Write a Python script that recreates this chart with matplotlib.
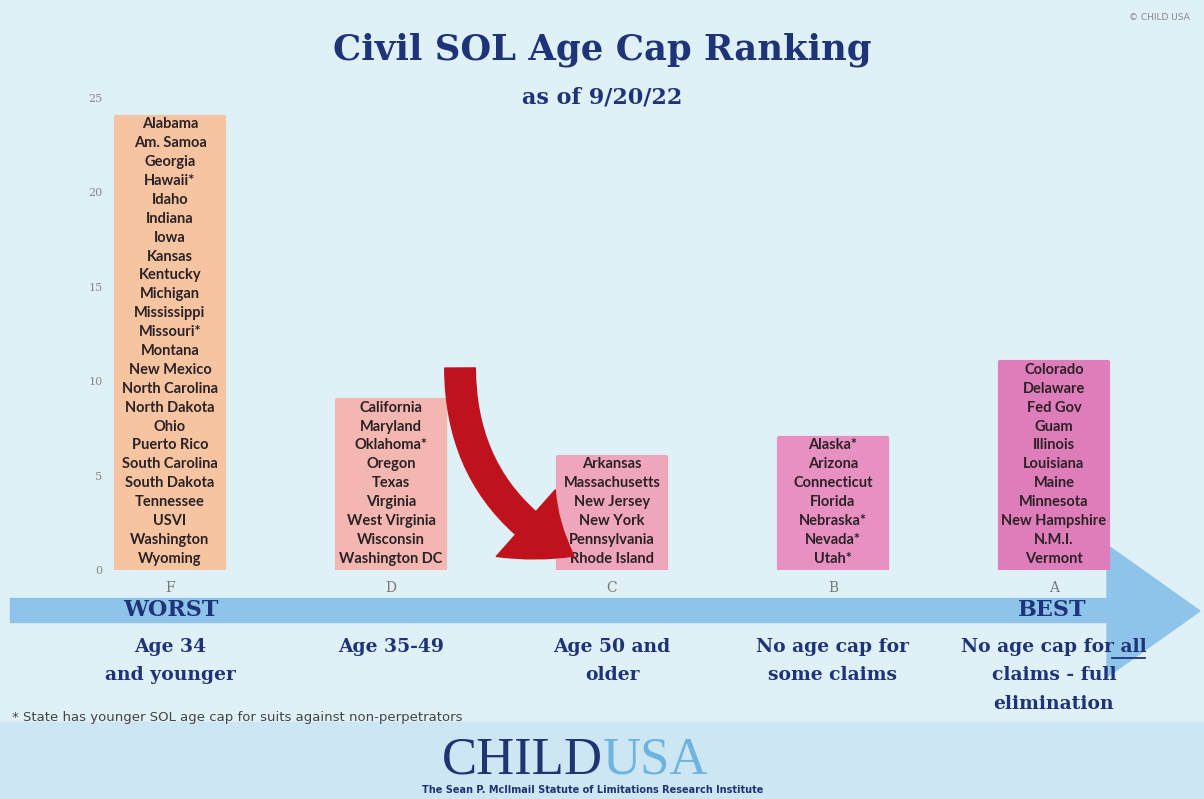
import numpy as np
import matplotlib.pyplot as plt
from matplotlib.patches import Rectangle, Polygon, FancyArrowPatch
from matplotlib.lines import Line2D

# Datos
grades = ["F", "D", "C", "B", "A"]
counts = [24, 9, 6, 7, 11]

f_states = ["Alabama", "Am. Samoa", "Georgia", "Hawaii*", "Idaho", "Indiana", "Iowa",
            "Kansas", "Kentucky", "Michigan", "Mississippi", "Missouri*", "Montana",
            "New Mexico", "North Carolina", "North Dakota", "Ohio", "Puerto Rico",
            "South Carolina", "South Dakota", "Tennessee", "USVI", "Washington", "Wyoming"]
d_states = ["California", "Maryland", "Oklahoma*", "Oregon", "Texas", "Virginia",
            "West Virginia", "Wisconsin", "Washington DC"]
c_states = ["Arkansas", "Massachusetts", "New Jersey", "New York", "Pennsylvania",
            "Rhode Island"]
b_states = ["Alaska*", "Arizona", "Connecticut", "Florida", "Nebraska*", "Nevada*", "Utah*"]
a_states = ["Colorado", "Delaware", "Fed Gov", "Guam", "Illinois", "Louisiana", "Maine",
            "Minnesota", "New Hampshire", "N.M.I.", "Vermont"]
state_lists = [f_states, d_states, c_states, b_states, a_states]

descriptions = ["Age 34\nand younger", "Age 35-49", "Age 50 and\nolder",
                "No age cap for\nsome claims", "No age cap for all\nclaims - full\nelimination"]

bar_colors = ["#f6c4a0", "#f3b6b0", "#f0a6ba", "#e890c2", "#df7cba"]
navy = "#1f3478"
W, H = 1204, 799

def fx(x):
    return x / W

def fy(y):
    return 1 - y / H

fig = plt.figure(figsize=(12.04, 7.99), dpi=100)
fig.patch.set_facecolor("#dff0f7")

# banda inferior
fig.add_artist(Rectangle((0, 0), 1, fy(722), transform=fig.transFigure,
                         color="#cde6f3", zorder=0))

# flecha azul grande
fig.add_artist(Rectangle((fx(10), fy(622)), fx(1100), fy(598) - fy(622),
                         transform=fig.transFigure, color="#8ec4ea", zorder=1))
fig.add_artist(Polygon([(fx(1107), fy(545)), (fx(1200), fy(611)), (fx(1107), fy(677))],
                       closed=True, transform=fig.transFigure, color="#8ec4ea", zorder=1))

ax = fig.add_axes([fx(108), fy(570), fx(1130) - fx(108), fy(98) - fy(570)])
ax.set_facecolor("none")
ax.set_zorder(2)

x = np.arange(len(grades))
bars = ax.bar(x, counts, width=0.49, color=bar_colors, edgecolor=bar_colors,
              linewidth=3, zorder=3)
for b in bars:
    b.set_joinstyle("round")

for xi, n, names in zip(x, counts, state_lists):
    for i, name in enumerate(names):
        ax.text(xi, n - i - 0.4, name, ha="center", va="center", fontsize=10.5,
                family="Lato", fontweight="bold", color="#2b2226", zorder=4)

ax.set_xlim(-0.2805, 4.344)
ax.set_ylim(0, 25)
ax.set_yticks([0, 5, 10, 15, 20, 25])
ax.set_xticks(x)
ax.set_xticklabels(grades, family="DejaVu Serif", fontsize=10, color="#777777")
ax.tick_params(axis="x", length=0, pad=8)
ax.tick_params(axis="y", length=0, pad=4, labelsize=8, labelcolor="#888888")
for lbl in ax.get_yticklabels():
    lbl.set_family("DejaVu Serif")
for s in ax.spines.values():
    s.set_visible(False)

# flecha roja curva
arrow = FancyArrowPatch((fx(460), fy(368)), (fx(574), fy(556)), transform=fig.transFigure,
                        connectionstyle="arc3,rad=0.3",
                        arrowstyle="simple,head_length=2.1,head_width=3.2,tail_width=1.1",
                        mutation_scale=20, color="#c0121d", shrinkA=0, shrinkB=0, zorder=6)
fig.add_artist(arrow)

# títulos
fig.text(0.5, fy(50), "Civil SOL Age Cap Ranking", ha="center", va="center",
         family="DejaVu Serif", fontweight="bold", fontsize=25.5, color=navy)
fig.text(0.5, fy(97), "as of 9/20/22", ha="center", va="center",
         family="DejaVu Serif", fontweight="bold", fontsize=16, color=navy)
fig.text(fx(1190), fy(17), "© CHILD USA", ha="right", va="center", fontsize=6.5,
         color="#888888")

# WORST / BEST y descripciones
fig.text(fx(171), fy(610), "WORST", ha="center", va="center", family="DejaVu Serif",
         fontweight="bold", fontsize=16, color=navy, zorder=3)
fig.text(fx(1052), fy(610), "BEST", ha="center", va="center", family="DejaVu Serif",
         fontweight="bold", fontsize=16, color=navy, zorder=3)
for xi, desc in zip(x, descriptions):
    xp = 170 + 221 * xi
    fig.text(fx(xp), fy(638), desc, ha="center", va="top", family="DejaVu Serif",
             fontweight="bold", fontsize=13.5, color=navy, linespacing=1.75)
# subrayado de "all"
fig.add_artist(Line2D([fx(1112), fx(1145)], [fy(658), fy(658)], transform=fig.transFigure,
                      color=navy, linewidth=1.3))

fig.text(fx(12), fy(717), "* State has younger SOL age cap for suits against non-perpetrators",
         ha="left", va="center", fontsize=9.5, color="#444444")

# logo
fig.text(fx(603), fy(760), "CHILD", ha="right", va="center", family="Liberation Serif",
         fontsize=38, color="#1f3470")
fig.text(fx(603), fy(760), "USA", ha="left", va="center", family="Liberation Serif",
         fontsize=38, color="#6fb3df")
fig.text(fx(593), fy(790), "The Sean P. McIlmail Statute of Limitations Research Institute",
         ha="center", va="center", fontsize=7, fontweight="bold", color="#1f3470")

fig.savefig("out.png", dpi=100, facecolor=fig.get_facecolor())
